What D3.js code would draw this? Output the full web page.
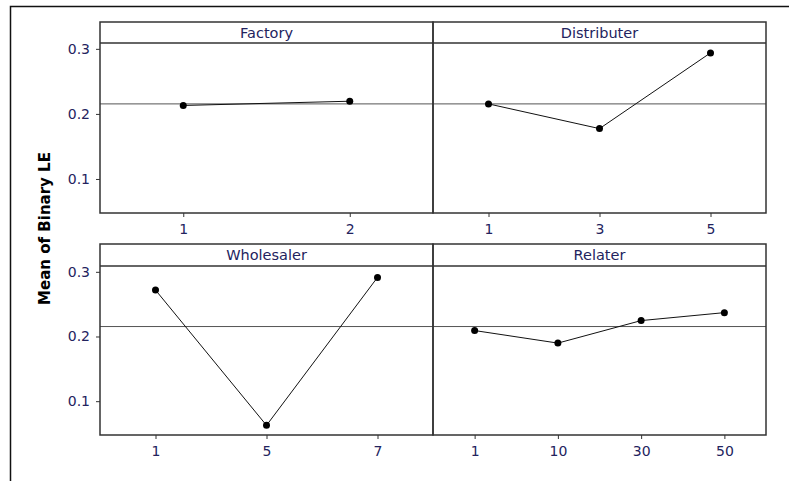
<!DOCTYPE html>
<html lang="en">
<head>
    <meta charset="UTF-8">
    <title>Main Effects Plot for Binary LE</title>
    <script src="https://d3js.org/d3.v7.min.js"></script>
    <style>
        body { margin: 0; background: #fff; }
        text { font-family: "DejaVu Sans", Verdana, sans-serif; }
    </style>
</head>
<body>
    <div id="chart"></div>

    <script>
        // data
        const factors = ["Factory", "Distributer", "Wholesaler", "Relater"];
        const levels = [
            ["1", "2"],
            ["1", "3", "5"],
            ["1", "5", "7"],
            ["1", "10", "30", "50"]
        ];
        const factoryMeans = [0.213, 0.2195];
        const distributerMeans = [0.2154, 0.1774, 0.2938];
        const wholesalerMeans = [0.2718, 0.0626, 0.2914];
        const relaterMeans = [0.2092, 0.1898, 0.2246, 0.2369];
        const means = [factoryMeans, distributerMeans, wholesalerMeans, relaterMeans];
        const grandMean = 0.2154;
        const yTicks = [0.1, 0.2, 0.3];

        const width = 789, height = 481;
        const textColor = "#23235e";

        const svg = d3.select("#chart")
            .append("svg")
            .attr("width", width)
            .attr("height", height);

        // outer frame (only top and left visible)
        svg.append("path")
            .attr("d", "M10.5,481V6.5H789")
            .attr("fill", "none")
            .attr("stroke", "#111")
            .attr("stroke-width", 1.5);

        const cols = [100, 433, 766];
        const rows = [
            { top: 22, strip: 43, bottom: 213 },
            { top: 244, strip: 266, bottom: 435 }
        ];

        rows.forEach((r, ri) => {
            const y = d3.scaleLinear()
                .domain([0.0477, 0.309])
                .range([r.bottom, r.strip]);

            // y axis on the left of the row
            const yAxis = svg.append("g")
                .attr("transform", `translate(${cols[0]},0)`)
                .call(d3.axisLeft(y).tickValues(yTicks).tickFormat(d3.format(".1f")).tickSize(4).tickPadding(6));
            yAxis.select(".domain").remove();
            yAxis.selectAll("line").attr("stroke", "#333");
            yAxis.selectAll("text")
                .attr("fill", textColor)
                .style("font-size", "14px");

            // grand mean reference line across the row
            svg.append("line")
                .attr("x1", cols[0]).attr("x2", cols[2])
                .attr("y1", y(grandMean)).attr("y2", y(grandMean))
                .attr("stroke", "#555")
                .attr("stroke-width", 1);

            for (let ci = 0; ci < 2; ci++) {
                const k = ri * 2 + ci;
                const x0 = cols[ci], x1 = cols[ci + 1];
                const data = levels[k].map((l, i) => ({ level: l, mean: means[k][i] }));

                const x = d3.scalePoint()
                    .domain(levels[k])
                    .range([x0, x1])
                    .padding(0.5);

                const xAxis = svg.append("g")
                    .attr("transform", `translate(0,${r.bottom})`)
                    .call(d3.axisBottom(x).tickSize(4).tickPadding(7));
                xAxis.select(".domain").remove();
                xAxis.selectAll("line").attr("stroke", "#333");
                xAxis.selectAll("text")
                    .attr("fill", textColor)
                    .style("font-size", "14px");

                // strip title
                svg.append("text")
                    .attr("x", (x0 + x1) / 2)
                    .attr("y", (r.top + r.strip) / 2)
                    .attr("dy", "0.35em")
                    .attr("text-anchor", "middle")
                    .attr("fill", textColor)
                    .style("font-size", "14.5px")
                    .text(factors[k]);

                svg.append("path")
                    .datum(data)
                    .attr("fill", "none")
                    .attr("stroke", "#111")
                    .attr("stroke-width", 1)
                    .attr("d", d3.line().x(d => x(d.level)).y(d => y(d.mean)));

                svg.append("g")
                    .selectAll("circle")
                    .data(data)
                    .enter()
                    .append("circle")
                    .attr("cx", d => x(d.level))
                    .attr("cy", d => y(d.mean))
                    .attr("r", 3.5)
                    .attr("fill", "#000");

                // panel and strip borders
                svg.append("rect")
                    .attr("x", x0).attr("y", r.top)
                    .attr("width", x1 - x0).attr("height", r.bottom - r.top)
                    .attr("fill", "none")
                    .attr("stroke", "#333")
                    .attr("stroke-width", 1.5);
                svg.append("line")
                    .attr("x1", x0).attr("x2", x1)
                    .attr("y1", r.strip).attr("y2", r.strip)
                    .attr("stroke", "#333")
                    .attr("stroke-width", 1.5);
            }
        });

        svg.append("text")
            .attr("transform", `translate(50,${(rows[0].top + rows[1].bottom) / 2}) rotate(-90)`)
            .attr("text-anchor", "middle")
            .attr("fill", "#000")
            .style("font-size", "15px")
            .style("font-weight", "bold")
            .text("Mean of Binary LE");
    </script>
</body>
</html>
